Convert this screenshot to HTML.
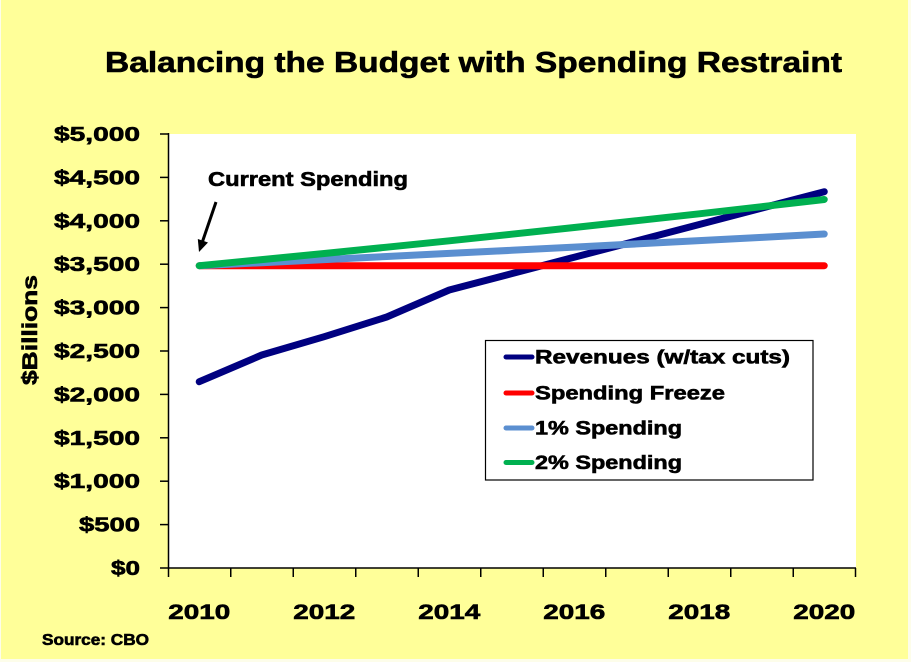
<!DOCTYPE html>
<html>
<head>
<meta charset="utf-8">
<style>
  html, body { margin:0; padding:0; background:#fdfde8; }
  body { width:911px; height:662px; overflow:hidden; }
  svg { display:block; }
  text { font-family: "Liberation Sans", Arial, sans-serif; font-weight: bold; fill:#000; stroke:#000; stroke-width:0.6px; }
</style>
</head>
<body>
<svg width="911" height="662" viewBox="0 0 911 662" xmlns="http://www.w3.org/2000/svg">
  <!-- background -->
  <rect x="0" y="0" width="911" height="662" fill="#fdfdea"/>
  <rect x="1" y="0" width="907" height="659" fill="#FFFF99"/>

  <!-- title -->
  <text x="105" y="72" font-size="29" textLength="737" lengthAdjust="spacingAndGlyphs">Balancing the Budget with Spending Restraint</text>

  <!-- plot area -->
  <rect x="168.5" y="134" width="687.5" height="434" fill="#FFFFFF"/>

  <!-- axes -->
  <line x1="168.5" y1="133" x2="168.5" y2="568" stroke="#000" stroke-width="1.5"/>
  <line x1="168" y1="568" x2="856" y2="568" stroke="#000" stroke-width="1.5"/>

  <!-- y ticks -->
  <g stroke="#000" stroke-width="1.5">
    <line x1="160" y1="134" x2="168.5" y2="134"/>
    <line x1="160" y1="177.4" x2="168.5" y2="177.4"/>
    <line x1="160" y1="220.8" x2="168.5" y2="220.8"/>
    <line x1="160" y1="264.2" x2="168.5" y2="264.2"/>
    <line x1="160" y1="307.6" x2="168.5" y2="307.6"/>
    <line x1="160" y1="351" x2="168.5" y2="351"/>
    <line x1="160" y1="394.4" x2="168.5" y2="394.4"/>
    <line x1="160" y1="437.8" x2="168.5" y2="437.8"/>
    <line x1="160" y1="481.2" x2="168.5" y2="481.2"/>
    <line x1="160" y1="524.6" x2="168.5" y2="524.6"/>
    <line x1="160" y1="568" x2="168.5" y2="568"/>
  </g>

  <!-- x ticks -->
  <g stroke="#000" stroke-width="1.5">
    <line x1="168.5" y1="568" x2="168.5" y2="577"/>
    <line x1="230.75" y1="568" x2="230.75" y2="577"/>
    <line x1="293.25" y1="568" x2="293.25" y2="577"/>
    <line x1="355.75" y1="568" x2="355.75" y2="577"/>
    <line x1="418.25" y1="568" x2="418.25" y2="577"/>
    <line x1="480.75" y1="568" x2="480.75" y2="577"/>
    <line x1="543.25" y1="568" x2="543.25" y2="577"/>
    <line x1="605.75" y1="568" x2="605.75" y2="577"/>
    <line x1="668.25" y1="568" x2="668.25" y2="577"/>
    <line x1="730.75" y1="568" x2="730.75" y2="577"/>
    <line x1="793.25" y1="568" x2="793.25" y2="577"/>
    <line x1="855.5" y1="568" x2="855.5" y2="577"/>
  </g>

  <!-- y tick labels -->
  <g font-size="20" text-anchor="end">
    <text x="140" y="141" textLength="86" lengthAdjust="spacingAndGlyphs">$5,000</text>
    <text x="140" y="184.4" textLength="86" lengthAdjust="spacingAndGlyphs">$4,500</text>
    <text x="140" y="227.8" textLength="86" lengthAdjust="spacingAndGlyphs">$4,000</text>
    <text x="140" y="271.2" textLength="86" lengthAdjust="spacingAndGlyphs">$3,500</text>
    <text x="140" y="314.6" textLength="86" lengthAdjust="spacingAndGlyphs">$3,000</text>
    <text x="140" y="358" textLength="86" lengthAdjust="spacingAndGlyphs">$2,500</text>
    <text x="140" y="401.4" textLength="86" lengthAdjust="spacingAndGlyphs">$2,000</text>
    <text x="140" y="444.8" textLength="86" lengthAdjust="spacingAndGlyphs">$1,500</text>
    <text x="140" y="488.2" textLength="86" lengthAdjust="spacingAndGlyphs">$1,000</text>
    <text x="140" y="531.6" textLength="61" lengthAdjust="spacingAndGlyphs">$500</text>
    <text x="140" y="575" textLength="29" lengthAdjust="spacingAndGlyphs">$0</text>
  </g>

  <!-- x tick labels -->
  <g font-size="21" text-anchor="middle">
    <text x="199.25" y="619" textLength="62" lengthAdjust="spacingAndGlyphs">2010</text>
    <text x="324.25" y="619" textLength="62" lengthAdjust="spacingAndGlyphs">2012</text>
    <text x="449.25" y="619" textLength="62" lengthAdjust="spacingAndGlyphs">2014</text>
    <text x="574.25" y="619" textLength="62" lengthAdjust="spacingAndGlyphs">2016</text>
    <text x="699.25" y="619" textLength="62" lengthAdjust="spacingAndGlyphs">2018</text>
    <text x="824.25" y="619" textLength="62" lengthAdjust="spacingAndGlyphs">2020</text>
  </g>

  <!-- y axis title -->
  <text transform="translate(37,330) rotate(-90)" font-size="21" text-anchor="middle" textLength="110" lengthAdjust="spacingAndGlyphs">$Billions</text>

  <!-- source -->
  <text x="42" y="645" font-size="16" textLength="107" lengthAdjust="spacingAndGlyphs">Source: CBO</text>

  <!-- series -->
  <g fill="none" stroke-width="7" stroke-linecap="round" stroke-linejoin="round">
    <polyline stroke="#000080" points="199.25,381.7 261.75,355 324.25,336.7 386.75,317 449.25,290 511.75,273.6 574.25,257.2 636.75,240.9 699.25,224.5 761.75,208.1 824.25,191.7"/>
    <polyline stroke="#FF0000" points="199.25,265.7 824.25,265.7"/>
    <polyline stroke="#5B8FD0" points="199.25,265.7 261.75,262.7 324.25,259.6 386.75,256.5 449.25,253.4 511.75,250.3 574.25,247.1 636.75,243.9 699.25,240.6 761.75,237.4 824.25,234"/>
    <polyline stroke="#00B050" points="199.25,265.7 261.75,259.6 324.25,253.5 386.75,247.2 449.25,240.8 511.75,234.2 574.25,227.5 636.75,220.7 699.25,213.8 761.75,206.7 824.25,199.5"/>
  </g>

  <!-- annotation -->
  <text x="208" y="186" font-size="20" textLength="200" lengthAdjust="spacingAndGlyphs">Current Spending</text>
  <line x1="216" y1="202" x2="202.5" y2="241.5" stroke="#000" stroke-width="3"/>
  <polygon points="199,252 208,242.5 197.8,239" fill="#000"/>

  <!-- legend -->
  <rect x="485.5" y="340.5" width="327.5" height="139.5" fill="#FFFFFF" stroke="#000" stroke-width="1.2"/>
  <g stroke-width="5" stroke-linecap="round">
    <line x1="506" y1="357" x2="532" y2="357" stroke="#000080"/>
    <line x1="506" y1="393" x2="532" y2="393" stroke="#FF0000"/>
    <line x1="506" y1="428" x2="532" y2="428" stroke="#5B8FD0"/>
    <line x1="506" y1="462.5" x2="532" y2="462.5" stroke="#00B050"/>
  </g>
  <g font-size="19">
    <text x="535" y="363.5" textLength="255" lengthAdjust="spacingAndGlyphs">Revenues (w/tax cuts)</text>
    <text x="535" y="399.5" textLength="190" lengthAdjust="spacingAndGlyphs">Spending Freeze</text>
    <text x="535" y="434.5" textLength="147" lengthAdjust="spacingAndGlyphs">1% Spending</text>
    <text x="535" y="469" textLength="147" lengthAdjust="spacingAndGlyphs">2% Spending</text>
  </g>
</svg>
</body>
</html>
